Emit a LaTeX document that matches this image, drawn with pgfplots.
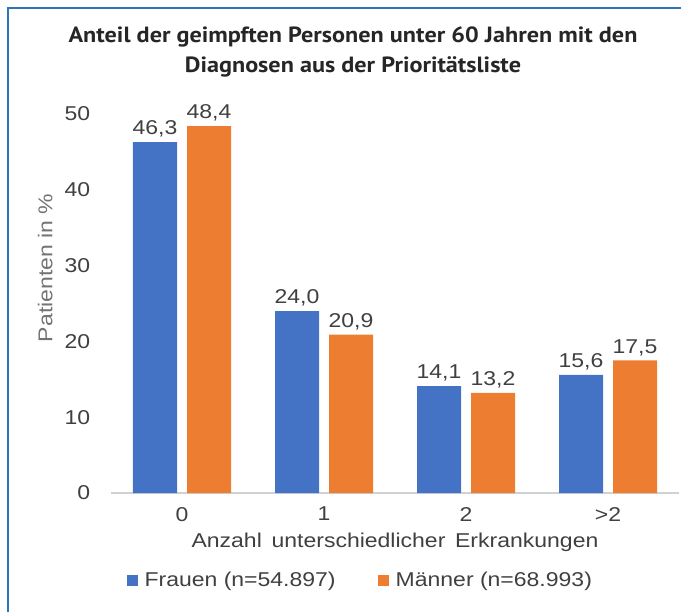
\documentclass[border=0pt]{standalone}
\usepackage{pgfplots}
\pgfplotsset{compat=1.18}
\usepackage{fontspec}
\setmainfont[FakeStretch=1.15]{Liberation Sans}
\newfontfamily\titlefont[FakeStretch=1.1]{PT Sans}
\definecolor{cblue}{HTML}{4472C4}
\definecolor{corange}{HTML}{ED7D31}
\definecolor{ctext}{HTML}{404040}
\definecolor{cframe}{HTML}{2E75B6}
\begin{document}
\begin{tikzpicture}
\path[use as bounding box] (0,0) rectangle (510.75pt,-459pt);
\draw[cframe, line width=1.1pt] (6pt,-459pt) -- (6pt,-6pt) -- (510.75pt,-6pt);
\node[align=center, font=\titlefont\bfseries\fontsize{16.5}{22.5}\selectfont, text=black!85] at (264.75pt,-39pt)
  {Anteil der geimpften Personen unter 60 Jahren mit den\\Diagnosen aus der Prioritätsliste};
\begin{axis}[
  at={(83.25pt,-369.75pt)}, anchor=south west,
  scale only axis, width=426pt, height=284.25pt,
  xmin=-0.5, xmax=3.5, ymin=0, ymax=50,
  ybar, bar width=33pt,
  axis x line*=bottom, axis y line*=left,
  y axis line style={draw=none},
  x axis line style={draw=black!18, line width=0.8pt, -},
  major tick length=0pt,
  xtick={0,1,2,3}, xticklabels={0,1,2,{>2}},
  ytick={0,10,20,30,40,50},
  /pgf/number format/assume math mode=true,
  tick label style={font=\fontsize{15}{17}\selectfont, text=ctext},
  yticklabel style={xshift=-12pt},
  xticklabel style={yshift=-7pt},
  xlabel={Anzahl\, unterschiedlicher\, Erkrankungen},
  xlabel style={font=\fontsize{15}{17}\selectfont, text=ctext, at={(axis description cs:0.5,-0.13)}, anchor=center},
  ylabel={Patienten in \%},
  ylabel style={font=\fontsize{15}{17}\selectfont, text=black!55, at={(axis description cs:-0.116,0.594)}, anchor=center, rotate=0},
  nodes near coords,
  every node near coord/.append style={font=\fontsize{15}{17}\selectfont, text=ctext, /pgf/number format/.cd, use comma, fixed, fixed zerofill, precision=1},
  legend columns=2,
  legend style={draw=none, fill=none, at={(axis description cs:0.44,-0.23)}, anchor=center, font=\fontsize{15}{17}\selectfont, text=ctext, /tikz/every even column/.append style={column sep=30pt}},
  legend image code/.code={\fill[#1] (0pt,-4pt) rectangle (8pt,4pt); \path (11pt,0pt);},
]
\addplot[fill=cblue, draw=none, bar shift=-20.25pt] coordinates {(0,46.3) (1,24.0) (2,14.1) (3,15.6)};
\addplot[fill=corange, draw=none, bar shift=20.25pt] coordinates {(0,48.4) (1,20.9) (2,13.2) (3,17.5)};
\legend{Frauen (n=54.897), Männer (n=68.993)}
\end{axis}
\end{tikzpicture}
\end{document}
